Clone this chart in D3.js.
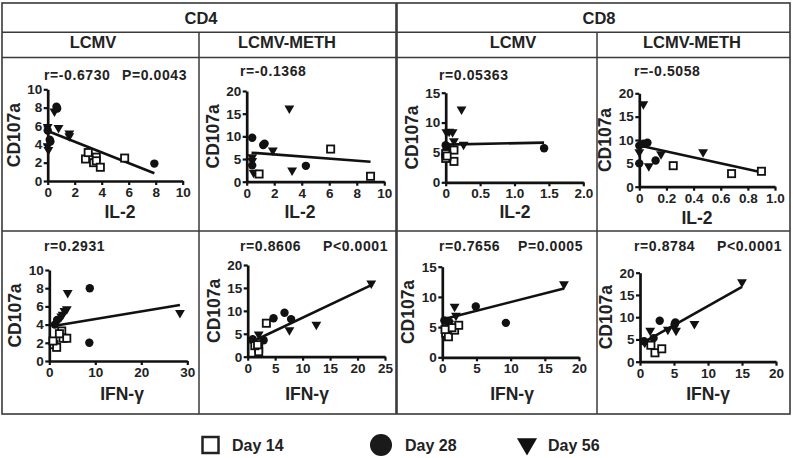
<!DOCTYPE html>
<html><head><meta charset="utf-8">
<script src="https://cdn.jsdelivr.net/npm/d3@7/dist/d3.min.js"></script>
<style>
html,body{margin:0;padding:0;background:#fff;}
svg{display:block;font-family:"Liberation Sans",Arial,Helvetica,sans-serif;}
</style></head>
<body>
<svg id="chart" width="793" height="458"></svg>
<script>
// ---------------- DATA ----------------
const cellTypes = ["CD4", "CD8"];
const viruses = ["LCMV", "LCMV-METH"];
const xMeasures = ["IL-2", "IFN-γ"];
const yMeasure = "CD107a";
const legendLabels = ["Day 14", "Day 28", "Day 56"];

// panel order: CD4-LCMV-IL2, CD4-METH-IL2, CD8-LCMV-IL2, CD8-METH-IL2, then IFN-γ row
const xMax = [10, 10, 2, 1, 30, 25, 20, 20];
const yMax = [10, 20, 15, 20, 10, 20, 15, 20];
const xTickLabels = [
  ["0","2","4","6","8","10"], ["0","2","4","6","8","10"],
  ["0","0.5","1.0","1.5","2.0"], ["0","0.2","0.4","0.6","0.8","1.0"],
  ["0","10","20","30"], ["0","5","10","15","20","25"],
  ["0","5","10","15","20"], ["0","5","10","15","20"]
];
const yTickLabels = [
  ["0","2","4","6","8","10"], ["0","5","10","15","20"],
  ["0","5","10","15"], ["0","5","10","15","20"],
  ["0","2","4","6","8","10"], ["0","5","10","15","20"],
  ["0","5","10","15"], ["0","5","10","15","20"]
];
const rValues = ["r=-0.6730", "r=-0.1368", "r=0.05363", "r=-0.5058",
                 "r=0.2931", "r=0.8606", "r=0.7656", "r=0.8784"];
const pValues = ["P=0.0043", "", "", "", "", "P<0.0001", "P=0.0005", "P<0.0001"];

const day14 = [
  [[2.8,2.4],[3.0,3.1],[3.4,2.0],[3.6,2.6],[3.6,2.2],[3.9,1.5],[5.7,2.5]],
  [[0.9,1.7],[6.1,7.2],[9.0,1.2]],
  [[0.0,4.0],[0.0,4.8],[0.12,5.4],[0.12,3.5],[0.02,4.4]],
  [[0.25,4.5],[0.68,2.8],[0.9,3.3]],
  [[1.0,1.8],[1.6,1.5],[2.7,3.3],[3.0,2.5],[3.8,2.5],[0.8,2.2],[2.2,3.0]],
  [[3.4,7.3],[2.0,1.8],[2.0,1.1],[1.3,2.4],[1.8,2.6]],
  [[0.5,4.0],[0.9,3.4],[1.8,4.5],[2.4,5.3],[1.4,4.9],[0.4,4.6]],
  [[2.2,2.0],[3.2,2.9],[1.6,3.7]]
];
const day28 = [
  [[0.0,5.5],[0.15,4.5],[0.2,4.3],[0.65,8.1],[0.7,7.9],[7.9,1.9]],
  [[0.4,9.7],[0.4,3.6],[1.2,8.1],[1.3,8.4],[4.3,3.5]],
  [[1.43,5.7],[0.0,6.2],[0.01,5.4],[0.02,5.8]],
  [[0.0,8.8],[0.03,9.2],[0.06,9.4],[0.0,5.0],[0.12,5.6]],
  [[8.8,8.0],[8.7,2.0],[1.7,4.5],[1.2,4.0]],
  [[4.7,8.4],[6.7,9.6],[7.9,8.2],[0.9,3.8],[2.9,3.6]],
  [[4.9,8.4],[9.3,5.7],[0.3,6.1],[0.7,6.0],[1.0,5.9]],
  [[2.9,9.2],[5.2,8.8],[5.1,8.4],[0.6,4.6],[2.0,5.3]]
];
const day56 = [
  [[0.0,5.9],[0.0,3.8],[0.05,3.4],[0.5,7.6],[0.8,5.8],[1.6,5.2],[1.6,4.9]],
  [[3.1,16.2],[1.9,6.9],[3.3,2.5],[0.4,5.4],[0.5,2.0],[0.4,4.6]],
  [[0.23,12.2],[0.05,8.5],[0.1,8.4],[0.12,6.9],[0.26,6.3],[0.01,8.4]],
  [[0.03,17.7],[0.47,7.4],[0.16,7.0],[0.07,4.4],[0.0,7.4]],
  [[4.0,7.5],[28.4,5.3],[3.8,5.7],[3.3,5.5],[2.9,5.1],[2.6,4.9]],
  [[22.5,16.0],[12.5,7.0],[7.6,5.8],[2.0,4.9],[1.5,2.3]],
  [[17.8,12.1],[1.8,8.4],[2.0,6.9],[1.0,5.6]],
  [[15.0,17.9],[8.0,8.5],[5.3,7.0],[4.1,7.2],[1.5,7.0],[0.7,4.3]]
];
// regression line endpoints [x0,y0,x1,y1]
const fitLines = [
  [0,5.45,7.9,0.85],
  [0.35,6.4,9.0,4.4],
  [0,6.3,1.43,6.65],
  [0,8.8,0.9,3.1],
  [0.9,3.85,28.4,6.15],
  [0.3,3.0,22.5,15.6],
  [0.15,6.3,17.8,11.4],
  [0.25,4.1,15.0,16.8]
];

// ---------------- LAYOUT ----------------
// [xLeft, xRight, yBottom, yTop, titleX, titleY, statX, statY, pX]
const layout = [
  [47.7,182.7,181,89.3, 120,212, 44,75,122],
  [246.7,384.3,181.7,91, 300,212, 240,71,0],
  [445.7,583.3,182.3,92.7, 515,212, 439,75,0],
  [639.3,775,186.7,93.3, 697,218, 634,71,0],
  [49.3,187.3,361,270, 122,394, 44,246,0],
  [247.7,385,356.7,265, 307,394, 240,246,323],
  [442.3,579,357.3,266.7, 512,394, 439,246,518],
  [640,776,361.7,272.7, 708,394, 634,246,717]
];
const TXT = "#222", LINE = "#3a3a3a", INK = "#111";

const svg = d3.select("#chart");

// ---------------- TABLE ----------------
const tbl = svg.append("g").attr("stroke", LINE).attr("fill", "none");
tbl.append("rect").attr("x",2).attr("y",3).attr("width",788).attr("height",411).attr("stroke-width",1.6);
[[2,32.3,790,32.3],[2,57.5,790,57.5],[2,231,790,231],
 [199,32.3,199,414],[597,32.3,597,414]].forEach(l=>{
  tbl.append("line").attr("x1",l[0]).attr("y1",l[1]).attr("x2",l[2]).attr("y2",l[3]).attr("stroke-width",1.5);
});
tbl.append("line").attr("x1",396.5).attr("y1",3).attr("x2",396.5).attr("y2",414).attr("stroke-width",2.6);

const headerX1 = [201, 599];
cellTypes.forEach((c,i)=>{
  svg.append("text").attr("x",headerX1[i]).attr("y",23.8).attr("text-anchor","middle")
    .attr("font-size",16.5).attr("font-weight","bold").attr("fill",TXT).text(c);
});
const headerX2 = [93, 287, 513, 692];
headerX2.forEach((x,i)=>{
  svg.append("text").attr("x",x).attr("y",48).attr("text-anchor","middle")
    .attr("font-size",16.5).attr("font-weight","bold").attr("fill",TXT).text(viruses[i%2]);
});

// ---------------- PANELS ----------------
const triSmall = d3.symbol().type(d3.symbolTriangle).size(42)();
layout.forEach((L,i)=>{
  const x = d3.scaleLinear().domain([0,xMax[i]]).range([L[0],L[1]]);
  const y = d3.scaleLinear().domain([0,yMax[i]]).range([L[2],L[3]]);
  const xt = xTickLabels[i].map(Number), yt = yTickLabels[i].map(Number);
  const g = svg.append("g");

  const ax = g.append("g").attr("transform",`translate(0,${L[2]})`)
    .call(d3.axisBottom(x).tickValues(xt).tickFormat((d,k)=>xTickLabels[i][k]).tickSize(4).tickSizeOuter(0).tickPadding(2.5));
  const ay = g.append("g").attr("transform",`translate(${L[0]},0)`)
    .call(d3.axisLeft(y).tickValues(yt).tickFormat((d,k)=>yTickLabels[i][k]).tickSize(4).tickSizeOuter(0).tickPadding(1.5));
  [ax,ay].forEach(a=>{
    a.select(".domain").attr("stroke",INK).attr("stroke-width",2.7);
    a.selectAll(".tick line").attr("stroke",INK).attr("stroke-width",2.2);
    a.selectAll(".tick text").attr("fill",TXT).attr("font-size",13.5).attr("font-weight","bold")
      .attr("font-family","'Liberation Sans',Arial,sans-serif");
  });

  // titles
  g.append("text").attr("x",L[4]).attr("y",L[5]+6).attr("text-anchor","middle")
    .attr("font-size",17.5).attr("font-weight","bold").attr("fill",TXT).text(xMeasures[i<4?0:1]);
  const ymid = (L[2]+L[3])/2;
  g.append("text").attr("transform",`translate(${L[0]-34+6},${ymid}) rotate(-90)`)
    .attr("text-anchor","middle").attr("font-size",17.5).attr("font-weight","bold").attr("fill",TXT).text(yMeasure);

  // stats
  g.append("text").attr("x",L[6]).attr("y",L[7]+5).attr("font-size",14).attr("letter-spacing",0.6)
    .attr("font-weight","bold").attr("fill",TXT).text(rValues[i]);
  if (pValues[i]) g.append("text").attr("x",L[8]).attr("y",L[7]+5).attr("font-size",14).attr("letter-spacing",0.6)
    .attr("font-weight","bold").attr("fill",TXT).text(pValues[i]);

  // fit line
  const f = fitLines[i];
  g.append("line").attr("x1",x(f[0])).attr("y1",y(f[1])).attr("x2",x(f[2])).attr("y2",y(f[3]))
    .attr("stroke",INK).attr("stroke-width",2.6);

  // markers
  g.selectAll(".tri").data(day56[i]).join("path").attr("d",triSmall)
    .attr("transform",d=>`translate(${x(d[0])},${y(d[1])}) rotate(180)`).attr("fill",INK);
  g.selectAll(".circ").data(day28[i]).join("circle")
    .attr("cx",d=>x(d[0])).attr("cy",d=>y(d[1])).attr("r",4.2).attr("fill",INK);
  g.selectAll(".sq").data(day14[i]).join("rect")
    .attr("x",d=>x(d[0])-3.6).attr("y",d=>y(d[1])-3.6).attr("width",7.2).attr("height",7.2)
    .attr("fill","#fff").attr("stroke",INK).attr("stroke-width",1.8);
});

// ---------------- LEGEND ----------------
const lg = svg.append("g");
lg.append("rect").attr("x",202.5).attr("y",437).attr("width",16).attr("height",16)
  .attr("fill","#fff").attr("stroke","#222").attr("stroke-width",2.5);
lg.append("circle").attr("cx",381).attr("cy",445).attr("r",11).attr("fill","#1a1a1a");
lg.append("path").attr("d",d3.symbol().type(d3.symbolTriangle).size(175)())
  .attr("transform","translate(527,444) rotate(180)").attr("fill","#111");
const legX = [232, 405, 548];
legendLabels.forEach((t,i)=>{
  lg.append("text").attr("x",legX[i]).attr("y",451).attr("font-size",16).attr("font-weight","bold")
    .attr("fill",TXT).text(t);
});
</script>
</body></html>
